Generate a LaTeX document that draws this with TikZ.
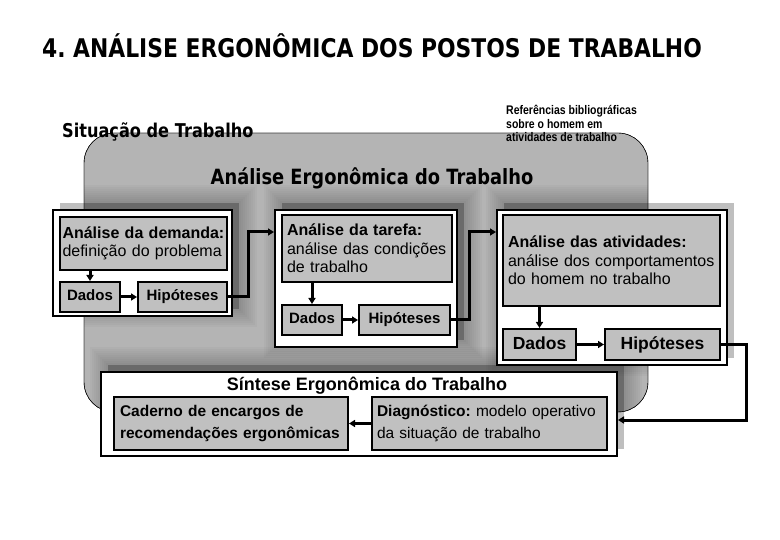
\documentclass[tikz,border=0pt]{standalone}
\usepackage{fontspec}
\setmainfont{Liberation Sans}
\newfontfamily\headfont[FakeStretch=0.85]{DejaVu Sans}
\newfontfamily\reffont[FakeStretch=0.84]{Liberation Sans}
\usetikzlibrary{arrows.meta,shadows}
\frenchspacing

\definecolor{panelgray}{HTML}{B4B4B4}
\definecolor{boxgray}{HTML}{C0C0C0}

\tikzset{
    grupo/.style={draw, line width=2pt, fill=white, inner sep=0pt,
        general shadow={shadow xshift=7pt, shadow yshift=7pt, fill=black, opacity=.25}},
    caixa/.style={draw, line width=2pt, fill=boxgray, inner sep=0pt, inner xsep=3pt,
        align=left, font=\fontsize{16}{18.5}\selectfont},
    rotulo/.style={caixa, align=center, text height=9pt, text depth=1pt,
        font=\bfseries\fontsize{15}{18}\selectfont},
    seta/.style={line width=3pt, -{Triangle[length=6pt,width=7pt]}},
}

\begin{document}
\begin{tikzpicture}[x=1pt,y=-1pt]
            \useasboundingbox (0,0) rectangle (780,540);
            \fill[white] (0,0) rectangle (780,540);

            \draw[fill=panelgray, rounded corners=30pt] (84,133) rectangle (648,412);
            \begin{scope}
                \clip[rounded corners=30pt] (84,133) rectangle (648,412);
                \foreach \xa/\ya/\xb/\yb in {53/210/232/316, 275/210/457/347,
                        497/210/727/365, 101/372/617/456}{
                    \foreach \d in {2,4,...,18}{
                        \fill[black, opacity=.025]
                            (\xa+7-\d,\ya-7-\d) rectangle (\xb+7+\d,\yb-7+\d);
                    }
                }
            \end{scope}
            \draw[rounded corners=30pt] (84,133) rectangle (648,412);

            \node[font=\headfont\bfseries\fontsize{25.7}{30}\selectfont] (titulo) at (372,46)
                {4. ANÁLISE ERGONÔMICA DOS POSTOS DE TRABALHO};
            \node[font=\headfont\bfseries\fontsize{19}{22}\selectfont, anchor=base west, inner sep=0pt]
                (situacao) at (62,138) {Situação de Trabalho};
            \node[font=\reffont\bfseries\fontsize{12.5}{13.5}\selectfont, align=left,
                anchor=north west, inner sep=0pt] (refs) at (506,105)
                {Referências bibliográficas\\sobre o homem em\\atividades de trabalho};
            \node[font=\headfont\bfseries\fontsize{21}{24}\selectfont] (aet) at (372,178)
                {Análise Ergonômica do Trabalho};

            \node[grupo, minimum width=179pt, minimum height=106pt] (g1) at (142.5,263) {};
            \node[caixa, inner xsep=2.5pt, text width=162pt, minimum height=53pt] (demanda)
                at (143.5,243.5) {\textbf{Análise da demanda:}\\definição do problema};
            \node[rotulo, minimum width=60pt, minimum height=30pt] (dados1) at (90,297) {Dados};
            \node[rotulo, minimum width=89pt, minimum height=30pt] (hip1) at (182.5,297) {Hipóteses};

            \node[grupo, minimum width=182pt, minimum height=137pt] (g2) at (366,278.5) {};
            \node[caixa, inner xsep=5pt, text width=160pt, minimum height=67pt] (tarefa)
                at (367,248.5) {\textbf{Análise da tarefa:}\\análise das condições\\de trabalho};
            \node[rotulo, minimum width=60pt, minimum height=30pt] (dados2) at (312,320) {Dados};
            \node[rotulo, minimum width=91pt, minimum height=30pt] (hip2) at (404.5,320) {Hipóteses};

            \node[grupo, minimum width=230pt, minimum height=155pt] (g3) at (612,287.5) {};
            \node[caixa, inner xsep=5pt, text width=207pt, minimum height=91pt] (ativ)
                at (611.5,260.5)
                {\textbf{Análise das atividades:}\\análise dos comportamentos\\do homem no trabalho};
            \node[rotulo, minimum width=73pt, minimum height=31pt, text height=10pt,
                font=\bfseries\fontsize{17.5}{20}\selectfont] (dados3) at (539.5,344.5) {Dados};
            \node[rotulo, minimum width=115pt, minimum height=31pt, text height=10pt,
                font=\bfseries\fontsize{17.5}{20}\selectfont] (hip3) at (662.5,344.5) {Hipóteses};

            \node[grupo, minimum width=516pt, minimum height=84pt] (sint) at (359,414) {};
            \node[font=\bfseries\fontsize{18}{21}\selectfont] (sinttit) at (367,386)
                {Síntese Ergonômica do Trabalho};
            \node[caixa, inner xsep=6pt, text width=222pt, minimum height=53pt,
                font=\bfseries\fontsize{15.5}{22}\selectfont] (caderno) at (231,423.5)
                {Caderno de encargos de\\recomendações ergonômicas};
            \node[caixa, inner xsep=5pt, text width=225pt, minimum height=53pt,
                font=\fontsize{15.5}{22}\selectfont] (diag) at (489.5,423.5)
                {\textbf{Diagnóstico:} modelo operativo\\da situação de trabalho};

            \draw[seta] (demanda.south -| dados1) -- (dados1.north);
            \draw[seta] (dados1) -- (hip1);
            \draw[seta] (hip1.east) -- ++(20,0) |- ([yshift=-23pt]g2.north west);

            \draw[seta] (tarefa.south -| dados2) -- (dados2.north);
            \draw[seta] (dados2) -- (hip2);
            \draw[seta] (hip2.east) -- ++(18,0) |- ([yshift=-23pt]g3.north west);

            \draw[seta] (ativ.south -| dados3) -- (dados3.north);
            \draw[seta] (dados3) -- (hip3);
            \draw[seta] (hip3.east) -- ++(25,0) |- ([yshift=-6pt]sint.east);

            \draw[seta] (diag) -- (caderno);
\end{tikzpicture}
\end{document}
